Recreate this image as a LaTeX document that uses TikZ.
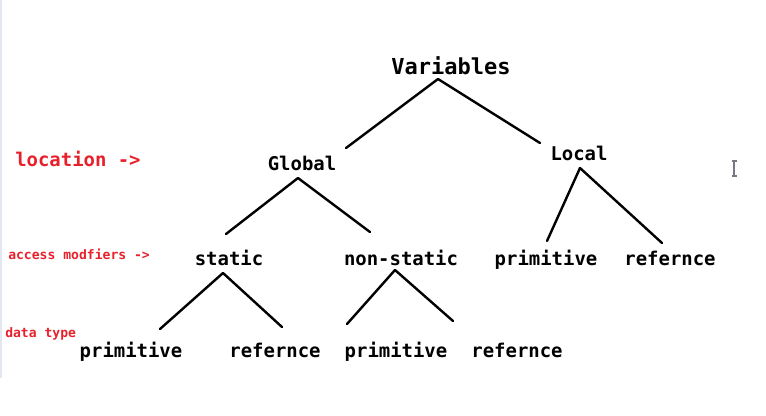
\documentclass[tikz,border=0pt]{standalone}
\usepackage{fontspec}
\setmonofont{DejaVu Sans Mono}
\usepackage{tkz-euclide}
\definecolor{NoteClr}{RGB}{232,32,44}
\definecolor{EdgeClr}{RGB}{226,231,241}
\definecolor{CursorClr}{RGB}{120,120,130}

\begin{document}
\begin{tikzpicture}[x=0.75pt,y=-0.75pt,
  word/.style={font=\ttfamily\bfseries\fontsize{14.2}{16}\selectfont,inner sep=0pt,text depth=0pt},
  title/.style={font=\ttfamily\bfseries\fontsize{16.5}{18}\selectfont,inner sep=0pt,text depth=0pt},
  note/.style={font=\ttfamily\bfseries\fontsize{9.8}{11}\selectfont,inner sep=0pt,text depth=0pt,color=NoteClr,anchor=west},
  bignote/.style={font=\ttfamily\bfseries\fontsize{14.2}{16}\selectfont,inner sep=0pt,text depth=0pt,color=NoteClr,anchor=west}]
\useasboundingbox (0,0) rectangle (766,415);
\fill[EdgeClr] (0,0) rectangle (2,378);
\tkzSetUpLine[line width=1.8pt,color=black]

% words of the tree
\node[title] (vars) at (451,66) {Variables};
\node[word] (glob) at (302,163) {Global};
\node[word] (loc) at (579,153) {Local};
\node[word] (stat) at (229,258) {static};
\node[word] (nonstat) at (401,258) {non-static};
\node[word] (locprim) at (546,258) {primitive};
\node[word] (locref) at (670,258) {refernce};
\node[word] (statprim) at (131,350) {primitive};
\node[word] (statref) at (275,350) {refernce};
\node[word] (nsprim) at (396,350) {primitive};
\node[word] (nsref) at (517,350) {refernce};

% notes on the left
\node[bignote] (location) at (15,159) {location ->};
\node[note] (access) at (8,254) {access modfiers ->};
\node[note] (dtype) at (5,333) {data type};

% ends of the branches
\tkzDefPoints{438/79/V,346/148/G1,540/143/L1}
\tkzDefPoints{298/178/G,226/234/S1,370/232/N1}
\tkzDefPoints{580/168/L,547/241/P1,662/243/R1}
\tkzDefPoints{223/273/S,160/329/S2,282/327/S3}
\tkzDefPoints{395/270/N,347/324/N2,453/321/N3}

\tkzDrawSegments(V,G1 V,L1 G,S1 G,N1 L,P1 L,R1 S,S2 S,S3 N,N2 N,N3)

% text cursor
\draw[CursorClr,line width=1pt] (734,161) -- (734,176)
  (731.5,161) -- (736.5,161) (731.5,176) -- (736.5,176);

\end{tikzpicture}
\end{document}
